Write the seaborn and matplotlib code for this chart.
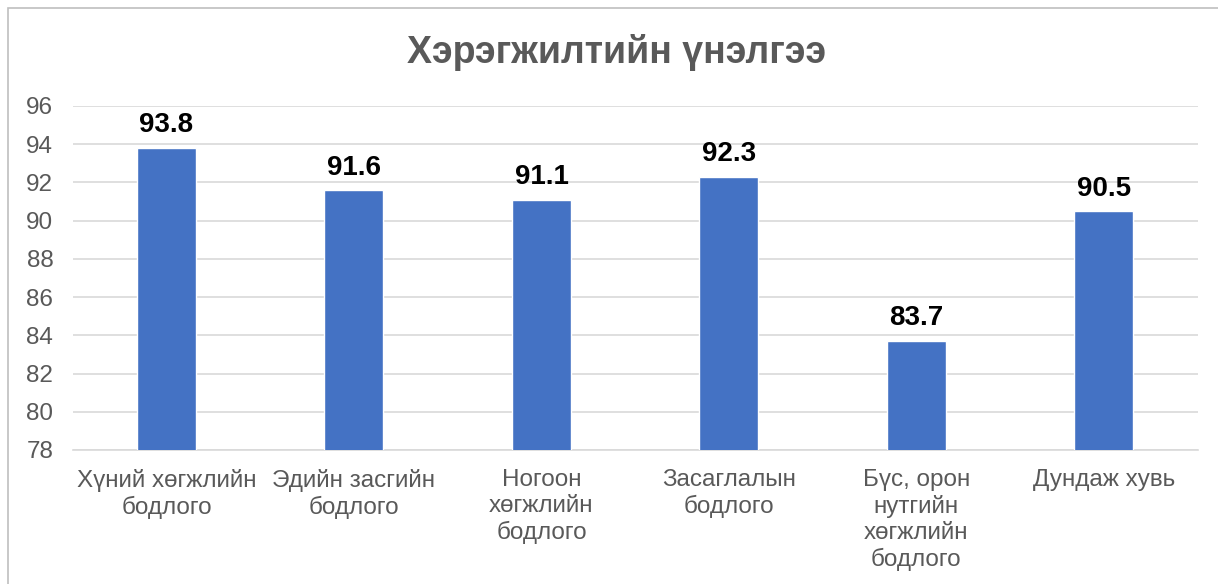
import pandas as pd
import matplotlib.pyplot as plt
import seaborn as sns
from matplotlib.patches import Rectangle

# values
categories = [
    "Хүний хөгжлийн\nбодлого",
    "Эдийн засгийн\nбодлого",
    "Ногоон\nхөгжлийн\nбодлого",
    "Засаглалын\nбодлого",
    "Бүс, орон\nнутгийн\nхөгжлийн\nбодлого",
    "Дундаж хувь",
]
scores = [93.8, 91.6, 91.1, 92.3, 83.7, 90.5]
y_ticks = [78, 80, 82, 84, 86, 88, 90, 92, 94, 96]

df = pd.DataFrame({"category": categories, "score": scores})

sns.set_theme(style="white")
plt.rcParams["font.family"] = ["Liberation Sans", "DejaVu Sans"]

fig = plt.figure(figsize=(12.18, 5.84), dpi=100)
ax = fig.add_axes([0.0597, 0.2295, 0.9236, 0.589])

sns.barplot(data=df, x="category", y="score", color="#4472C4", width=0.315,
            saturation=1, ax=ax, zorder=3)

ax.set_ylim(78, 96)
ax.set_yticks(y_ticks)
ax.grid(axis="y", color="#D9D9D9", linewidth=1.2, zorder=0)
for s in ["top", "right", "left"]:
    ax.spines[s].set_visible(False)
ax.spines["bottom"].set_color("#D9D9D9")
ax.spines["bottom"].set_linewidth(1.2)
ax.set_xlabel("")
ax.set_ylabel("")
ax.tick_params(axis="y", labelsize=17.5, labelcolor="#595959", length=0, pad=14)
ax.tick_params(axis="x", labelsize=17.5, labelcolor="#595959", length=0, pad=14)
for lbl in ax.get_xticklabels():
    lbl.set_linespacing(1.21)

for i, v in enumerate(scores):
    ax.text(i, v + 0.5, f"{v:.1f}", ha="center", va="bottom",
            fontsize=20, fontweight="bold", color="black")

fig.text(0.506, 0.91, "Хэрэгжилтийн үнэлгээ", ha="center", va="center",
         fontsize=27, fontweight="bold", color="#595959")

# outer chart border
fig.patches.append(Rectangle((8 / 1218, -0.1), 1.2, 0.1 + (584 - 8) / 584,
                             transform=fig.transFigure, fill=False,
                             edgecolor="#BFBFBF", linewidth=1.2))

fig.savefig("out.png", dpi=100)
